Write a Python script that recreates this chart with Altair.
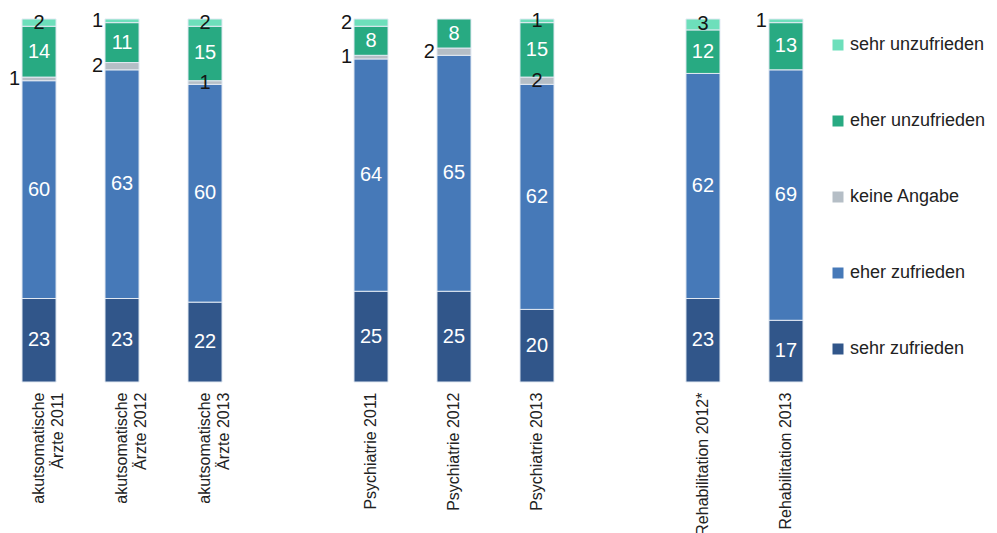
import altair as alt
import pandas as pd

# ---- data ----
categories = [
    "akutsomatische\nÄrzte 2011",
    "akutsomatische\nÄrzte 2012",
    "akutsomatische\nÄrzte 2013",
    "Psychiatrie 2011",
    "Psychiatrie 2012",
    "Psychiatrie 2013",
    "Rehabilitation 2012*",
    "Rehabilitation 2013",
]
levels = ["sehr zufrieden", "eher zufrieden", "keine Angabe", "eher unzufrieden", "sehr unzufrieden"]
sehr_zufrieden = [23, 23, 22, 25, 25, 20, 23, 17]
eher_zufrieden = [60, 63, 60, 64, 65, 62, 62, 69]
keine_angabe = [1, 2, 1, 1, 2, 2, 0, 0]
eher_unzufrieden = [14, 11, 15, 8, 8, 15, 12, 13]
sehr_unzufrieden = [2, 1, 2, 2, 0, 1, 3, 1]

series = [sehr_zufrieden, eher_zufrieden, keine_angabe, eher_unzufrieden, sehr_unzufrieden]

# small labels that sit to the left of their bar in the reference
left_labels = {
    (categories[0], "keine Angabe"),
    (categories[1], "sehr unzufrieden"),
    (categories[1], "keine Angabe"),
    (categories[3], "sehr unzufrieden"),
    (categories[3], "keine Angabe"),
    (categories[4], "keine Angabe"),
    (categories[7], "sehr unzufrieden"),
}

rows = []
for li, (lev, vals) in enumerate(zip(levels, series)):
    for c, v in zip(categories, vals):
        rows.append({"cat": c, "level": lev, "ord": li, "value": v,
                     "outside": (c, lev) in left_labels})
df = pd.DataFrame(rows)

x_domain = categories[:3] + [" "] + categories[3:6] + ["  "] + categories[6:]
legend_order = ["sehr unzufrieden", "eher unzufrieden", "keine Angabe", "eher zufrieden", "sehr zufrieden"]
colors = ["#6ddfbb", "#28aa82", "#b5bec6", "#4679b8", "#31568a"]

FONT = "Liberation Sans"

base = (
    alt.Chart(df)
    .transform_filter("datum.value > 0")
    .transform_stack(stack="value", groupby=["cat"], as_=["y0", "y1"],
                     sort=[alt.SortField("ord", order="ascending")])
    .transform_calculate(mid="(datum.y0 + datum.y1) / 2")
)

xenc = alt.X(
    "cat:N",
    scale=alt.Scale(domain=x_domain, paddingInner=0.59, paddingOuter=0.205),
    axis=alt.Axis(title=None, labelAngle=-90, labelAlign="right", labelBaseline="middle",
                  labelExpr="split(datum.label, '\\n')", domain=False, ticks=False,
                  labelPadding=10, labelFontSize=16, labelFont=FONT, labelColor="#222222",
                  labelLineHeight=19, labelLimit=300),
)
yscale = alt.Scale(domain=[0, 100], nice=False)

bars = base.mark_bar(stroke="#e2e9f2", strokeWidth=1).encode(
    x=xenc,
    y=alt.Y("y0:Q", scale=yscale, axis=None),
    y2="y1:Q",
    color=alt.Color(
        "level:N",
        scale=alt.Scale(domain=legend_order, range=colors),
        legend=alt.Legend(title=None, orient="none", legendX=824, legendY=17,
                          symbolType="square", symbolSize=121, symbolStrokeWidth=0,
                          labelFontSize=18, labelFont=FONT, labelColor="#222222",
                          rowPadding=58, labelOffset=3, labelLimit=300),
    ),
)

inside = base.transform_filter("!datum.outside").mark_text(
    font=FONT, fontSize=20, baseline="middle", align="center"
).encode(
    x=alt.X("cat:N"),
    y=alt.Y("mid:Q", scale=yscale, axis=None),
    text="value:Q",
    color=alt.when(alt.datum.value >= 4).then(alt.value("white")).otherwise(alt.value("#151515")),
)

outside = base.transform_filter("datum.outside").mark_text(
    font=FONT, fontSize=20, baseline="middle", align="right", dx=-19, color="#151515"
).encode(
    x=alt.X("cat:N"),
    y=alt.Y("mid:Q", scale=yscale, axis=None),
    text="value:Q",
)

chart = (
    alt.layer(bars, inside, outside)
    .properties(
        width=815, height=363,
        autosize=alt.AutoSizeParams(type="none"),
        padding={"left": 5, "top": 19, "right": 177, "bottom": 151},
    )
    .configure(font=FONT)
    .configure_view(stroke=None)
)

chart.save("out.html", embed_options={"renderer": "svg", "actions": False})
